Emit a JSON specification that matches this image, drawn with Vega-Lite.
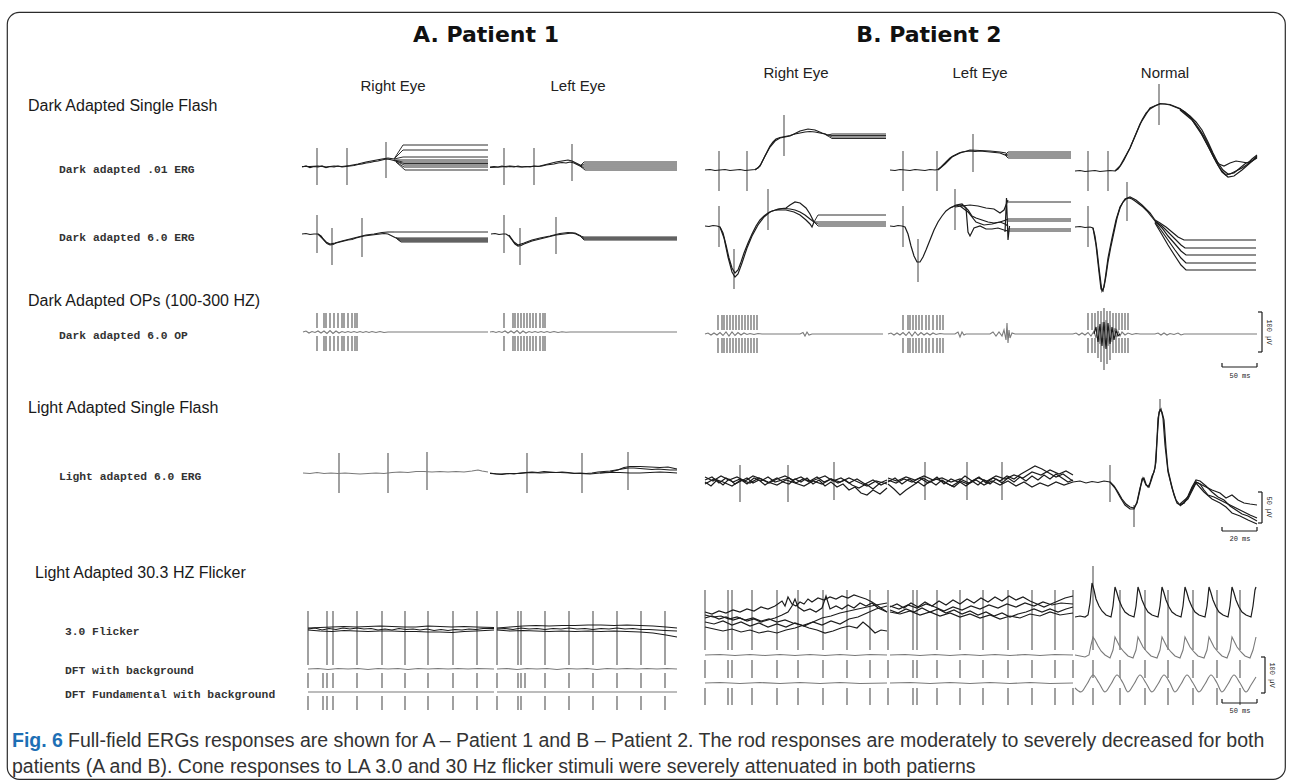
{
"$schema": "https://vega.github.io/schema/vega-lite/v6.json",
"width": 1278, "height": 767,
"autosize": {"type": "none"},
"padding": {"left": 7, "top": 12, "right": 5, "bottom": 3},
"background": "white",
"config": {"view": {"stroke": "#2b2b2b", "strokeWidth": 1.2, "cornerRadius": 12}},
"datasets": {
"raw": [
{"id":"r1","t":302,"v":167},{"id":"r1","t":306,"v":166},{"id":"r1","t":310,"v":167.5},{"id":"r1","t":314,"v":166.5},{"id":"r1","t":318,"v":167},{"id":"r1","t":322,"v":166},{"id":"r1","t":326,"v":167.5},{"id":"r1","t":330,"v":166.5},{"id":"r1","t":334,"v":167},{"id":"r1","t":338,"v":166},{"id":"r1","t":342,"v":167},{"id":"r1","t":346,"v":166.5},{"id":"r1","t":350,"v":166},{"id":"r1","t":354,"v":165.5},{"id":"r1","t":358,"v":164.5},{"id":"r1","t":362,"v":164},{"id":"r1","t":366,"v":163},{"id":"r1","t":370,"v":162.5},{"id":"r1","t":374,"v":161.5},{"id":"r1","t":378,"v":161},{"id":"r1","t":382,"v":160},{"id":"r1","t":386,"v":159},{"id":"r1","t":390,"v":159.5},{"id":"r1","t":394,"v":160.5},{"id":"r1","t":398,"v":162},
{"id":"r2","t":302,"v":166.5},{"id":"r2","t":310,"v":166.5},{"id":"r2","t":318,"v":166},{"id":"r2","t":326,"v":167},{"id":"r2","t":334,"v":166},{"id":"r2","t":342,"v":166.5},{"id":"r2","t":350,"v":165.5},{"id":"r2","t":358,"v":164},{"id":"r2","t":366,"v":162},{"id":"r2","t":374,"v":160.5},{"id":"r2","t":382,"v":159},{"id":"r2","t":388,"v":158},{"id":"r2","t":394,"v":159},
{"id":"r3","t":490,"v":167},{"id":"r3","t":494,"v":166.5},{"id":"r3","t":498,"v":167},{"id":"r3","t":502,"v":166},{"id":"r3","t":506,"v":167},{"id":"r3","t":510,"v":166.5},{"id":"r3","t":514,"v":167},{"id":"r3","t":518,"v":166},{"id":"r3","t":522,"v":167},{"id":"r3","t":526,"v":166.5},{"id":"r3","t":530,"v":167},{"id":"r3","t":534,"v":166},{"id":"r3","t":538,"v":166.5},{"id":"r3","t":542,"v":166},{"id":"r3","t":546,"v":165},{"id":"r3","t":550,"v":164.5},{"id":"r3","t":554,"v":164},{"id":"r3","t":558,"v":163},{"id":"r3","t":562,"v":162.5},{"id":"r3","t":566,"v":163},{"id":"r3","t":570,"v":162},{"id":"r3","t":574,"v":163},{"id":"r3","t":578,"v":165},{"id":"r3","t":582,"v":167},
{"id":"r4","t":490,"v":167.5},{"id":"r4","t":500,"v":167},{"id":"r4","t":510,"v":166},{"id":"r4","t":520,"v":167},{"id":"r4","t":530,"v":166.5},{"id":"r4","t":540,"v":166},{"id":"r4","t":548,"v":164},{"id":"r4","t":556,"v":162},{"id":"r4","t":562,"v":161},{"id":"r4","t":568,"v":160},{"id":"r4","t":572,"v":161},{"id":"r4","t":576,"v":163},{"id":"r4","t":582,"v":166},
{"id":"r5","t":705,"v":170},{"id":"r5","t":710,"v":169.5},{"id":"r5","t":715,"v":170.5},{"id":"r5","t":720,"v":170},{"id":"r5","t":725,"v":169.5},{"id":"r5","t":730,"v":170.5},{"id":"r5","t":735,"v":170},{"id":"r5","t":740,"v":169.5},{"id":"r5","t":745,"v":170.5},{"id":"r5","t":750,"v":170},{"id":"r5","t":755,"v":169.5},{"id":"r5","t":758,"v":168},{"id":"r5","t":761,"v":164},{"id":"r5","t":764,"v":158},{"id":"r5","t":767,"v":152},{"id":"r5","t":770,"v":146},{"id":"r5","t":773,"v":142},{"id":"r5","t":776,"v":139},{"id":"r5","t":780,"v":137.5},{"id":"r5","t":785,"v":136.5},{"id":"r5","t":790,"v":135.5},{"id":"r5","t":795,"v":134},{"id":"r5","t":800,"v":133},{"id":"r5","t":805,"v":132},{"id":"r5","t":810,"v":131.5},{"id":"r5","t":815,"v":132},{"id":"r5","t":820,"v":133},{"id":"r5","t":825,"v":134},{"id":"r5","t":828,"v":136},
{"id":"r6","t":755,"v":170},{"id":"r6","t":760,"v":166},{"id":"r6","t":765,"v":156},{"id":"r6","t":770,"v":147},{"id":"r6","t":775,"v":141},{"id":"r6","t":780,"v":138},{"id":"r6","t":790,"v":136},{"id":"r6","t":800,"v":131},{"id":"r6","t":808,"v":129},{"id":"r6","t":815,"v":130},{"id":"r6","t":822,"v":133},{"id":"r6","t":828,"v":135},
{"id":"r7","t":890,"v":170},{"id":"r7","t":895,"v":170.5},{"id":"r7","t":900,"v":169.5},{"id":"r7","t":905,"v":170},{"id":"r7","t":910,"v":170.5},{"id":"r7","t":915,"v":169.5},{"id":"r7","t":920,"v":170},{"id":"r7","t":925,"v":170.5},{"id":"r7","t":930,"v":169.5},{"id":"r7","t":935,"v":170},{"id":"r7","t":938,"v":169.5},{"id":"r7","t":941,"v":167},{"id":"r7","t":944,"v":164},{"id":"r7","t":947,"v":161},{"id":"r7","t":950,"v":158},{"id":"r7","t":953,"v":156},{"id":"r7","t":956,"v":154.5},{"id":"r7","t":959,"v":153},{"id":"r7","t":962,"v":152},{"id":"r7","t":966,"v":151.5},{"id":"r7","t":970,"v":151},{"id":"r7","t":975,"v":151.5},{"id":"r7","t":980,"v":151},{"id":"r7","t":985,"v":151.5},{"id":"r7","t":990,"v":152},{"id":"r7","t":995,"v":152.5},{"id":"r7","t":1000,"v":153},{"id":"r7","t":1005,"v":155},
{"id":"r8","t":938,"v":170},{"id":"r8","t":945,"v":164},{"id":"r8","t":952,"v":157},{"id":"r8","t":960,"v":153},{"id":"r8","t":970,"v":150},{"id":"r8","t":980,"v":150.5},{"id":"r8","t":990,"v":151},{"id":"r8","t":1000,"v":152},{"id":"r8","t":1006,"v":153},
{"id":"r9","t":1075,"v":171},{"id":"r9","t":1080,"v":170.5},{"id":"r9","t":1085,"v":171.5},{"id":"r9","t":1090,"v":171},{"id":"r9","t":1095,"v":170.5},{"id":"r9","t":1100,"v":171.5},{"id":"r9","t":1105,"v":171},{"id":"r9","t":1110,"v":170.5},{"id":"r9","t":1115,"v":171},{"id":"r9","t":1118,"v":169},{"id":"r9","t":1121,"v":165},{"id":"r9","t":1124,"v":160},{"id":"r9","t":1127,"v":154},{"id":"r9","t":1130,"v":148},{"id":"r9","t":1133,"v":141},{"id":"r9","t":1136,"v":134},{"id":"r9","t":1139,"v":127},{"id":"r9","t":1142,"v":120},{"id":"r9","t":1146,"v":113},{"id":"r9","t":1150,"v":109},{"id":"r9","t":1155,"v":106},{"id":"r9","t":1160,"v":104},{"id":"r9","t":1165,"v":104},{"id":"r9","t":1170,"v":105},{"id":"r9","t":1175,"v":107},{"id":"r9","t":1180,"v":109},{"id":"r9","t":1185,"v":112},{"id":"r9","t":1190,"v":117},{"id":"r9","t":1195,"v":123},{"id":"r9","t":1200,"v":130},{"id":"r9","t":1205,"v":138},{"id":"r9","t":1210,"v":148},{"id":"r9","t":1214,"v":157},{"id":"r9","t":1218,"v":165},{"id":"r9","t":1222,"v":171},{"id":"r9","t":1226,"v":175},{"id":"r9","t":1230,"v":174},{"id":"r9","t":1236,"v":171},{"id":"r9","t":1242,"v":168},{"id":"r9","t":1248,"v":164},{"id":"r9","t":1253,"v":160},{"id":"r9","t":1257,"v":156},
{"id":"r10","t":1115,"v":171},{"id":"r10","t":1120,"v":166},{"id":"r10","t":1130,"v":148},{"id":"r10","t":1140,"v":124},{"id":"r10","t":1150,"v":108},{"id":"r10","t":1160,"v":103.5},{"id":"r10","t":1170,"v":104.5},{"id":"r10","t":1180,"v":108.5},{"id":"r10","t":1190,"v":116},{"id":"r10","t":1196,"v":122},{"id":"r10","t":1202,"v":130},{"id":"r10","t":1208,"v":142},{"id":"r10","t":1213,"v":153},{"id":"r10","t":1218,"v":163},{"id":"r10","t":1223,"v":170},{"id":"r10","t":1228,"v":174},{"id":"r10","t":1234,"v":173},{"id":"r10","t":1240,"v":168},{"id":"r10","t":1246,"v":163},{"id":"r10","t":1252,"v":161},{"id":"r10","t":1257,"v":158},
{"id":"r11","t":1180,"v":109},{"id":"r11","t":1190,"v":117},{"id":"r11","t":1200,"v":131},{"id":"r11","t":1208,"v":146},{"id":"r11","t":1214,"v":158},{"id":"r11","t":1219,"v":164},{"id":"r11","t":1224,"v":166},{"id":"r11","t":1230,"v":163},{"id":"r11","t":1236,"v":161},{"id":"r11","t":1242,"v":162},{"id":"r11","t":1248,"v":163},{"id":"r11","t":1252,"v":159},{"id":"r11","t":1257,"v":155},
{"id":"r12","t":1180,"v":110},{"id":"r12","t":1192,"v":120},{"id":"r12","t":1202,"v":135},{"id":"r12","t":1210,"v":150},{"id":"r12","t":1216,"v":162},{"id":"r12","t":1222,"v":172},{"id":"r12","t":1228,"v":177},{"id":"r12","t":1234,"v":176},{"id":"r12","t":1242,"v":170},{"id":"r12","t":1250,"v":163},{"id":"r12","t":1257,"v":157},
{"id":"r13","t":302,"v":234},{"id":"r13","t":306,"v":233.5},{"id":"r13","t":310,"v":234.5},{"id":"r13","t":314,"v":234},{"id":"r13","t":318,"v":234},{"id":"r13","t":321,"v":236},{"id":"r13","t":324,"v":240},{"id":"r13","t":327,"v":243.5},{"id":"r13","t":330,"v":245},{"id":"r13","t":333,"v":244.5},{"id":"r13","t":336,"v":243},{"id":"r13","t":340,"v":242},{"id":"r13","t":344,"v":241},{"id":"r13","t":348,"v":240},{"id":"r13","t":352,"v":239.5},{"id":"r13","t":356,"v":238},{"id":"r13","t":360,"v":237},{"id":"r13","t":364,"v":236},{"id":"r13","t":368,"v":235.5},{"id":"r13","t":372,"v":235},{"id":"r13","t":376,"v":234.5},{"id":"r13","t":380,"v":234},{"id":"r13","t":384,"v":233.5},{"id":"r13","t":388,"v":234},{"id":"r13","t":392,"v":236},{"id":"r13","t":396,"v":238},
{"id":"r14","t":318,"v":234},{"id":"r14","t":322,"v":238},{"id":"r14","t":326,"v":242},{"id":"r14","t":330,"v":244},{"id":"r14","t":335,"v":243},{"id":"r14","t":342,"v":241},{"id":"r14","t":350,"v":239},{"id":"r14","t":358,"v":237},{"id":"r14","t":366,"v":235},{"id":"r14","t":374,"v":234},{"id":"r14","t":382,"v":232.5},{"id":"r14","t":388,"v":232},{"id":"r14","t":394,"v":232},
{"id":"r15","t":491,"v":234},{"id":"r15","t":495,"v":233.5},{"id":"r15","t":499,"v":234.5},{"id":"r15","t":503,"v":234},{"id":"r15","t":506,"v":234},{"id":"r15","t":509,"v":236},{"id":"r15","t":512,"v":240},{"id":"r15","t":515,"v":244},{"id":"r15","t":518,"v":246},{"id":"r15","t":521,"v":245.5},{"id":"r15","t":524,"v":244},{"id":"r15","t":528,"v":242.5},{"id":"r15","t":532,"v":241},{"id":"r15","t":536,"v":240},{"id":"r15","t":540,"v":239},{"id":"r15","t":544,"v":238},{"id":"r15","t":548,"v":237},{"id":"r15","t":552,"v":236},{"id":"r15","t":556,"v":235},{"id":"r15","t":560,"v":234.5},{"id":"r15","t":564,"v":234},{"id":"r15","t":568,"v":233.5},{"id":"r15","t":572,"v":233},{"id":"r15","t":576,"v":234},{"id":"r15","t":580,"v":236},
{"id":"r16","t":509,"v":235},{"id":"r16","t":514,"v":242},{"id":"r16","t":518,"v":245},{"id":"r16","t":524,"v":243},{"id":"r16","t":532,"v":240},{"id":"r16","t":540,"v":238},{"id":"r16","t":550,"v":236},{"id":"r16","t":560,"v":233.5},{"id":"r16","t":568,"v":232.5},{"id":"r16","t":575,"v":233},{"id":"r16","t":581,"v":236},
{"id":"r17","t":705,"v":226},{"id":"r17","t":709,"v":226.5},{"id":"r17","t":713,"v":225.5},{"id":"r17","t":717,"v":226},{"id":"r17","t":720,"v":227},{"id":"r17","t":723,"v":233},{"id":"r17","t":726,"v":245},{"id":"r17","t":729,"v":258},{"id":"r17","t":732,"v":268},{"id":"r17","t":735,"v":273},{"id":"r17","t":738,"v":270},{"id":"r17","t":741,"v":262},{"id":"r17","t":744,"v":253},{"id":"r17","t":748,"v":243},{"id":"r17","t":752,"v":234},{"id":"r17","t":756,"v":226},{"id":"r17","t":760,"v":220},{"id":"r17","t":764,"v":216},{"id":"r17","t":768,"v":213},{"id":"r17","t":772,"v":211},{"id":"r17","t":776,"v":210},{"id":"r17","t":780,"v":209},{"id":"r17","t":785,"v":208.5},{"id":"r17","t":790,"v":209},{"id":"r17","t":795,"v":210},{"id":"r17","t":800,"v":212},{"id":"r17","t":805,"v":215},{"id":"r17","t":810,"v":219},{"id":"r17","t":814,"v":222},
{"id":"r18","t":720,"v":227},{"id":"r18","t":724,"v":238},{"id":"r18","t":728,"v":257},{"id":"r18","t":732,"v":272},{"id":"r18","t":735,"v":277},{"id":"r18","t":738,"v":274},{"id":"r18","t":742,"v":263},{"id":"r18","t":747,"v":248},{"id":"r18","t":752,"v":236},{"id":"r18","t":758,"v":225},{"id":"r18","t":764,"v":217},{"id":"r18","t":770,"v":212},{"id":"r18","t":778,"v":209},{"id":"r18","t":786,"v":208},{"id":"r18","t":790,"v":205},{"id":"r18","t":795,"v":202},{"id":"r18","t":800,"v":203},{"id":"r18","t":806,"v":208},{"id":"r18","t":810,"v":214},{"id":"r18","t":814,"v":222},
{"id":"r19","t":776,"v":210},{"id":"r19","t":786,"v":210},{"id":"r19","t":794,"v":212},{"id":"r19","t":800,"v":215},{"id":"r19","t":806,"v":220},{"id":"r19","t":810,"v":224},{"id":"r19","t":812,"v":227},{"id":"r19","t":814,"v":222},
{"id":"r20","t":890,"v":226},{"id":"r20","t":894,"v":226.5},{"id":"r20","t":898,"v":225.5},{"id":"r20","t":902,"v":226},{"id":"r20","t":905,"v":227},{"id":"r20","t":908,"v":234},{"id":"r20","t":911,"v":246},{"id":"r20","t":914,"v":256},{"id":"r20","t":917,"v":262},{"id":"r20","t":920,"v":262},{"id":"r20","t":923,"v":257},{"id":"r20","t":926,"v":250},{"id":"r20","t":930,"v":240},{"id":"r20","t":934,"v":230},{"id":"r20","t":938,"v":222},{"id":"r20","t":942,"v":216},{"id":"r20","t":946,"v":211},{"id":"r20","t":950,"v":208},{"id":"r20","t":955,"v":206},{"id":"r20","t":960,"v":205},{"id":"r20","t":964,"v":206},{"id":"r20","t":968,"v":210},{"id":"r20","t":972,"v":216},{"id":"r20","t":976,"v":218},{"id":"r20","t":982,"v":220},{"id":"r20","t":988,"v":222},{"id":"r20","t":994,"v":223},{"id":"r20","t":1000,"v":222},{"id":"r20","t":1005,"v":224},{"id":"r20","t":1008,"v":226},
{"id":"r21","t":950,"v":208},{"id":"r21","t":956,"v":205},{"id":"r21","t":962,"v":204},{"id":"r21","t":966,"v":208},{"id":"r21","t":968,"v":232},{"id":"r21","t":970,"v":236},{"id":"r21","t":974,"v":228},{"id":"r21","t":980,"v":226},{"id":"r21","t":986,"v":229},{"id":"r21","t":992,"v":229},{"id":"r21","t":998,"v":228},{"id":"r21","t":1004,"v":230},{"id":"r21","t":1008,"v":231},
{"id":"r22","t":955,"v":207},{"id":"r22","t":962,"v":206},{"id":"r22","t":970,"v":205},{"id":"r22","t":978,"v":206},{"id":"r22","t":986,"v":208},{"id":"r22","t":994,"v":209},{"id":"r22","t":1000,"v":213},{"id":"r22","t":1004,"v":210},{"id":"r22","t":1008,"v":200},
{"id":"r23","t":960,"v":206},{"id":"r23","t":968,"v":212},{"id":"r23","t":976,"v":222},{"id":"r23","t":984,"v":225},{"id":"r23","t":992,"v":224},{"id":"r23","t":1000,"v":222},{"id":"r23","t":1006,"v":220},{"id":"r23","t":1008,"v":219},
{"id":"r24","t":1005,"v":232},{"id":"r24","t":1006.5,"v":198},{"id":"r24","t":1008,"v":240},{"id":"r24","t":1009.5,"v":226},
{"id":"r25","t":1075,"v":227},{"id":"r25","t":1080,"v":226.5},{"id":"r25","t":1085,"v":227.5},{"id":"r25","t":1090,"v":227},{"id":"r25","t":1093,"v":228},{"id":"r25","t":1095,"v":236},{"id":"r25","t":1097,"v":250},{"id":"r25","t":1099,"v":268},{"id":"r25","t":1101,"v":284},{"id":"r25","t":1102,"v":291},{"id":"r25","t":1104,"v":287},{"id":"r25","t":1106,"v":276},{"id":"r25","t":1108,"v":262},{"id":"r25","t":1111,"v":246},{"id":"r25","t":1114,"v":232},{"id":"r25","t":1117,"v":218},{"id":"r25","t":1120,"v":208},{"id":"r25","t":1123,"v":202},{"id":"r25","t":1126,"v":199},{"id":"r25","t":1129,"v":198},{"id":"r25","t":1132,"v":199},{"id":"r25","t":1135,"v":201},{"id":"r25","t":1139,"v":204},{"id":"r25","t":1143,"v":207},{"id":"r25","t":1147,"v":211},{"id":"r25","t":1151,"v":216},{"id":"r25","t":1155,"v":221},
{"id":"r26","t":1093,"v":228},{"id":"r26","t":1096,"v":245},{"id":"r26","t":1099,"v":272},{"id":"r26","t":1101,"v":289},{"id":"r26","t":1103,"v":291},{"id":"r26","t":1105,"v":280},{"id":"r26","t":1108,"v":258},{"id":"r26","t":1112,"v":238},{"id":"r26","t":1116,"v":220},{"id":"r26","t":1120,"v":207},{"id":"r26","t":1125,"v":199},{"id":"r26","t":1130,"v":197},{"id":"r26","t":1136,"v":200},{"id":"r26","t":1142,"v":205},{"id":"r26","t":1150,"v":213},{"id":"r26","t":1155,"v":220},
{"id":"r27","t":1155,"v":220},{"id":"r27","t":1160,"v":223},{"id":"r27","t":1166,"v":227},{"id":"r27","t":1172,"v":232},{"id":"r27","t":1178,"v":237},{"id":"r27","t":1184,"v":240},{"id":"r27","t":1256,"v":240},
{"id":"r28","t":1155,"v":221},{"id":"r28","t":1162,"v":226},{"id":"r28","t":1168,"v":232},{"id":"r28","t":1175,"v":239},{"id":"r28","t":1181,"v":245},{"id":"r28","t":1185,"v":248},{"id":"r28","t":1256,"v":248},
{"id":"r29","t":1155,"v":221},{"id":"r29","t":1162,"v":228},{"id":"r29","t":1168,"v":236},{"id":"r29","t":1175,"v":244},{"id":"r29","t":1181,"v":251},{"id":"r29","t":1186,"v":255},{"id":"r29","t":1256,"v":255},
{"id":"r30","t":1155,"v":222},{"id":"r30","t":1161,"v":230},{"id":"r30","t":1168,"v":240},{"id":"r30","t":1175,"v":250},{"id":"r30","t":1181,"v":258},{"id":"r30","t":1186,"v":263},{"id":"r30","t":1256,"v":263},
{"id":"r31","t":1155,"v":223},{"id":"r31","t":1161,"v":233},{"id":"r31","t":1168,"v":245},{"id":"r31","t":1175,"v":256},{"id":"r31","t":1181,"v":265},{"id":"r31","t":1186,"v":270},{"id":"r31","t":1256,"v":270},
{"id":"r32","t":490,"v":473},{"id":"r32","t":496,"v":474},{"id":"r32","t":502,"v":474.5},{"id":"r32","t":508,"v":473.5},{"id":"r32","t":514,"v":474},{"id":"r32","t":520,"v":473},{"id":"r32","t":526,"v":472.5},{"id":"r32","t":532,"v":472},{"id":"r32","t":538,"v":472.5},{"id":"r32","t":544,"v":471.5},{"id":"r32","t":550,"v":472},{"id":"r32","t":556,"v":472.5},{"id":"r32","t":562,"v":472},{"id":"r32","t":568,"v":472.5},{"id":"r32","t":574,"v":473.5},{"id":"r32","t":580,"v":473},{"id":"r32","t":586,"v":473.5},{"id":"r32","t":592,"v":473},{"id":"r32","t":598,"v":472},{"id":"r32","t":604,"v":471.5},{"id":"r32","t":610,"v":471},{"id":"r32","t":616,"v":470},{"id":"r32","t":622,"v":469},{"id":"r32","t":628,"v":468},{"id":"r32","t":634,"v":468},{"id":"r32","t":640,"v":468.5},{"id":"r32","t":646,"v":469},{"id":"r32","t":652,"v":469.5},{"id":"r32","t":658,"v":469},{"id":"r32","t":664,"v":469.5},{"id":"r32","t":670,"v":470},{"id":"r32","t":677,"v":470},
{"id":"r33","t":490,"v":473.5},{"id":"r33","t":500,"v":474},{"id":"r33","t":510,"v":473.5},{"id":"r33","t":520,"v":473.5},{"id":"r33","t":530,"v":472.5},{"id":"r33","t":540,"v":473},{"id":"r33","t":550,"v":472.5},{"id":"r33","t":560,"v":472.5},{"id":"r33","t":570,"v":473},{"id":"r33","t":580,"v":473.5},{"id":"r33","t":590,"v":474},{"id":"r33","t":600,"v":473},{"id":"r33","t":610,"v":472.5},{"id":"r33","t":620,"v":472.5},{"id":"r33","t":630,"v":473},{"id":"r33","t":640,"v":473},{"id":"r33","t":650,"v":472.5},{"id":"r33","t":660,"v":472},{"id":"r33","t":670,"v":472.5},{"id":"r33","t":677,"v":473},
{"id":"r34","t":600,"v":473},{"id":"r34","t":610,"v":472},{"id":"r34","t":618,"v":470},{"id":"r34","t":624,"v":467.5},{"id":"r34","t":630,"v":466.5},{"id":"r34","t":640,"v":466.5},{"id":"r34","t":650,"v":467},{"id":"r34","t":660,"v":467.5},{"id":"r34","t":668,"v":467},{"id":"r34","t":677,"v":469},
{"id":"r35","t":705,"v":480},{"id":"r35","t":712,"v":477},{"id":"r35","t":719,"v":483},{"id":"r35","t":726,"v":478},{"id":"r35","t":733,"v":482},{"id":"r35","t":740,"v":479},{"id":"r35","t":747,"v":484},{"id":"r35","t":754,"v":478},{"id":"r35","t":761,"v":481},{"id":"r35","t":768,"v":477},{"id":"r35","t":775,"v":482},{"id":"r35","t":782,"v":480},{"id":"r35","t":789,"v":478},{"id":"r35","t":796,"v":483},{"id":"r35","t":803,"v":479},{"id":"r35","t":810,"v":481},{"id":"r35","t":817,"v":477},{"id":"r35","t":824,"v":482},{"id":"r35","t":831,"v":479},{"id":"r35","t":838,"v":483},{"id":"r35","t":845,"v":480},{"id":"r35","t":852,"v":485},{"id":"r35","t":859,"v":488},{"id":"r35","t":866,"v":484},{"id":"r35","t":873,"v":489},{"id":"r35","t":880,"v":483},{"id":"r35","t":887,"v":480},
{"id":"r36","t":705,"v":482},{"id":"r36","t":711,"v":486},{"id":"r36","t":717,"v":480},{"id":"r36","t":723,"v":485},{"id":"r36","t":729,"v":479},{"id":"r36","t":735,"v":484},{"id":"r36","t":741,"v":481},{"id":"r36","t":747,"v":478},{"id":"r36","t":753,"v":483},{"id":"r36","t":759,"v":480},{"id":"r36","t":765,"v":485},{"id":"r36","t":771,"v":481},{"id":"r36","t":777,"v":478},{"id":"r36","t":783,"v":482},{"id":"r36","t":789,"v":484},{"id":"r36","t":795,"v":479},{"id":"r36","t":801,"v":482},{"id":"r36","t":807,"v":478},{"id":"r36","t":813,"v":484},{"id":"r36","t":819,"v":480},{"id":"r36","t":825,"v":486},{"id":"r36","t":831,"v":482},{"id":"r36","t":837,"v":487},{"id":"r36","t":843,"v":484},{"id":"r36","t":849,"v":490},{"id":"r36","t":855,"v":487},{"id":"r36","t":861,"v":493},{"id":"r36","t":867,"v":495},{"id":"r36","t":873,"v":490},{"id":"r36","t":880,"v":494},{"id":"r36","t":887,"v":488},
{"id":"r37","t":705,"v":477},{"id":"r37","t":713,"v":481},{"id":"r37","t":721,"v":476},{"id":"r37","t":729,"v":480},{"id":"r37","t":737,"v":477},{"id":"r37","t":745,"v":481},{"id":"r37","t":753,"v":476},{"id":"r37","t":761,"v":479},{"id":"r37","t":769,"v":483},{"id":"r37","t":777,"v":479},{"id":"r37","t":785,"v":476},{"id":"r37","t":793,"v":480},{"id":"r37","t":801,"v":477},{"id":"r37","t":809,"v":482},{"id":"r37","t":817,"v":479},{"id":"r37","t":825,"v":476},{"id":"r37","t":833,"v":481},{"id":"r37","t":841,"v":478},{"id":"r37","t":849,"v":483},{"id":"r37","t":857,"v":479},{"id":"r37","t":865,"v":484},{"id":"r37","t":873,"v":480},{"id":"r37","t":881,"v":485},{"id":"r37","t":887,"v":482},
{"id":"r38","t":705,"v":484},{"id":"r38","t":714,"v":479},{"id":"r38","t":723,"v":482},{"id":"r38","t":732,"v":486},{"id":"r38","t":741,"v":480},{"id":"r38","t":750,"v":483},{"id":"r38","t":759,"v":478},{"id":"r38","t":768,"v":482},{"id":"r38","t":777,"v":485},{"id":"r38","t":786,"v":480},{"id":"r38","t":795,"v":483},{"id":"r38","t":804,"v":486},{"id":"r38","t":813,"v":481},{"id":"r38","t":822,"v":484},{"id":"r38","t":831,"v":479},{"id":"r38","t":840,"v":482},{"id":"r38","t":849,"v":478},{"id":"r38","t":858,"v":482},{"id":"r38","t":867,"v":486},{"id":"r38","t":876,"v":481},{"id":"r38","t":887,"v":484},
{"id":"r39","t":888,"v":482},{"id":"r39","t":895,"v":478},{"id":"r39","t":902,"v":484},{"id":"r39","t":909,"v":479},{"id":"r39","t":916,"v":483},{"id":"r39","t":923,"v":478},{"id":"r39","t":930,"v":482},{"id":"r39","t":937,"v":477},{"id":"r39","t":944,"v":484},{"id":"r39","t":951,"v":479},{"id":"r39","t":958,"v":482},{"id":"r39","t":965,"v":476},{"id":"r39","t":972,"v":481},{"id":"r39","t":979,"v":477},{"id":"r39","t":986,"v":483},{"id":"r39","t":993,"v":478},{"id":"r39","t":1000,"v":481},{"id":"r39","t":1007,"v":476},{"id":"r39","t":1014,"v":479},{"id":"r39","t":1021,"v":474},{"id":"r39","t":1028,"v":470},{"id":"r39","t":1035,"v":466},{"id":"r39","t":1042,"v":469},{"id":"r39","t":1049,"v":473},{"id":"r39","t":1056,"v":477},{"id":"r39","t":1063,"v":474},{"id":"r39","t":1070,"v":479},{"id":"r39","t":1073,"v":481},
{"id":"r40","t":888,"v":484},{"id":"r40","t":894,"v":489},{"id":"r40","t":900,"v":495},{"id":"r40","t":906,"v":490},{"id":"r40","t":912,"v":486},{"id":"r40","t":918,"v":482},{"id":"r40","t":924,"v":486},{"id":"r40","t":930,"v":481},{"id":"r40","t":936,"v":485},{"id":"r40","t":942,"v":480},{"id":"r40","t":948,"v":484},{"id":"r40","t":954,"v":487},{"id":"r40","t":960,"v":482},{"id":"r40","t":966,"v":486},{"id":"r40","t":972,"v":481},{"id":"r40","t":978,"v":485},{"id":"r40","t":984,"v":480},{"id":"r40","t":990,"v":484},{"id":"r40","t":996,"v":479},{"id":"r40","t":1002,"v":483},{"id":"r40","t":1008,"v":478},{"id":"r40","t":1014,"v":482},{"id":"r40","t":1020,"v":477},{"id":"r40","t":1026,"v":481},{"id":"r40","t":1032,"v":476},{"id":"r40","t":1038,"v":480},{"id":"r40","t":1044,"v":475},{"id":"r40","t":1050,"v":479},{"id":"r40","t":1056,"v":474},{"id":"r40","t":1062,"v":478},{"id":"r40","t":1068,"v":482},{"id":"r40","t":1073,"v":480},
{"id":"r41","t":888,"v":480},{"id":"r41","t":896,"v":483},{"id":"r41","t":904,"v":479},{"id":"r41","t":912,"v":482},{"id":"r41","t":920,"v":478},{"id":"r41","t":928,"v":483},{"id":"r41","t":936,"v":479},{"id":"r41","t":944,"v":482},{"id":"r41","t":952,"v":486},{"id":"r41","t":960,"v":481},{"id":"r41","t":968,"v":484},{"id":"r41","t":976,"v":480},{"id":"r41","t":984,"v":485},{"id":"r41","t":992,"v":481},{"id":"r41","t":1000,"v":485},{"id":"r41","t":1008,"v":481},{"id":"r41","t":1016,"v":486},{"id":"r41","t":1024,"v":482},{"id":"r41","t":1032,"v":487},{"id":"r41","t":1040,"v":483},{"id":"r41","t":1048,"v":486},{"id":"r41","t":1056,"v":482},{"id":"r41","t":1064,"v":485},{"id":"r41","t":1073,"v":482},
{"id":"r42","t":888,"v":478},{"id":"r42","t":897,"v":481},{"id":"r42","t":906,"v":477},{"id":"r42","t":915,"v":480},{"id":"r42","t":924,"v":476},{"id":"r42","t":933,"v":480},{"id":"r42","t":942,"v":478},{"id":"r42","t":951,"v":482},{"id":"r42","t":960,"v":479},{"id":"r42","t":969,"v":483},{"id":"r42","t":978,"v":478},{"id":"r42","t":987,"v":481},{"id":"r42","t":996,"v":476},{"id":"r42","t":1005,"v":479},{"id":"r42","t":1014,"v":475},{"id":"r42","t":1023,"v":478},{"id":"r42","t":1032,"v":472},{"id":"r42","t":1041,"v":475},{"id":"r42","t":1050,"v":470},{"id":"r42","t":1059,"v":474},{"id":"r42","t":1066,"v":471},{"id":"r42","t":1073,"v":475},
{"id":"r43","t":1073,"v":482},{"id":"r43","t":1080,"v":481},{"id":"r43","t":1086,"v":483},{"id":"r43","t":1092,"v":481.5},{"id":"r43","t":1098,"v":482.5},{"id":"r43","t":1104,"v":481},{"id":"r43","t":1110,"v":482},{"id":"r43","t":1114,"v":486},{"id":"r43","t":1118,"v":492},{"id":"r43","t":1122,"v":499},{"id":"r43","t":1126,"v":504},{"id":"r43","t":1130,"v":507},{"id":"r43","t":1134,"v":508},{"id":"r43","t":1137,"v":503},{"id":"r43","t":1140,"v":490},{"id":"r43","t":1142,"v":479},{"id":"r43","t":1144,"v":478},{"id":"r43","t":1146,"v":484},{"id":"r43","t":1148,"v":487},{"id":"r43","t":1150,"v":483},{"id":"r43","t":1152,"v":476},{"id":"r43","t":1154,"v":472},{"id":"r43","t":1156,"v":462},{"id":"r43","t":1157,"v":440},{"id":"r43","t":1158,"v":418},{"id":"r43","t":1160,"v":410},{"id":"r43","t":1162,"v":412},{"id":"r43","t":1164,"v":420},{"id":"r43","t":1166,"v":448},{"id":"r43","t":1168,"v":470},{"id":"r43","t":1171,"v":483},{"id":"r43","t":1174,"v":495},{"id":"r43","t":1177,"v":503},{"id":"r43","t":1180,"v":505},{"id":"r43","t":1184,"v":503},{"id":"r43","t":1188,"v":497},{"id":"r43","t":1192,"v":488},{"id":"r43","t":1196,"v":482},{"id":"r43","t":1200,"v":484},{"id":"r43","t":1204,"v":490},{"id":"r43","t":1208,"v":495},{"id":"r43","t":1214,"v":497},{"id":"r43","t":1220,"v":500},{"id":"r43","t":1226,"v":503},{"id":"r43","t":1232,"v":506},{"id":"r43","t":1238,"v":509},{"id":"r43","t":1244,"v":512},{"id":"r43","t":1250,"v":515},{"id":"r43","t":1257,"v":518},
{"id":"r44","t":1180,"v":505},{"id":"r44","t":1184,"v":503},{"id":"r44","t":1188,"v":496},{"id":"r44","t":1192,"v":487},{"id":"r44","t":1196,"v":480},{"id":"r44","t":1200,"v":481},{"id":"r44","t":1206,"v":486},{"id":"r44","t":1212,"v":492},{"id":"r44","t":1218,"v":497},{"id":"r44","t":1224,"v":500},{"id":"r44","t":1230,"v":506},{"id":"r44","t":1236,"v":510},{"id":"r44","t":1242,"v":514},{"id":"r44","t":1248,"v":516},{"id":"r44","t":1257,"v":521},
{"id":"r45","t":1180,"v":504},{"id":"r45","t":1188,"v":497},{"id":"r45","t":1196,"v":482},{"id":"r45","t":1204,"v":486},{"id":"r45","t":1212,"v":490},{"id":"r45","t":1220,"v":493},{"id":"r45","t":1226,"v":498},{"id":"r45","t":1232,"v":495},{"id":"r45","t":1238,"v":500},{"id":"r45","t":1244,"v":503},{"id":"r45","t":1250,"v":504},{"id":"r45","t":1257,"v":505},
{"id":"r46","t":1180,"v":506},{"id":"r46","t":1188,"v":499},{"id":"r46","t":1196,"v":483},{"id":"r46","t":1204,"v":492},{"id":"r46","t":1212,"v":499},{"id":"r46","t":1220,"v":503},{"id":"r46","t":1226,"v":507},{"id":"r46","t":1232,"v":513},{"id":"r46","t":1240,"v":516},{"id":"r46","t":1248,"v":520},{"id":"r46","t":1257,"v":524},
{"id":"r47","t":1110,"v":482},{"id":"r47","t":1115,"v":488},{"id":"r47","t":1120,"v":497},{"id":"r47","t":1125,"v":505},{"id":"r47","t":1130,"v":509},{"id":"r47","t":1134,"v":509},{"id":"r47","t":1137,"v":502},{"id":"r47","t":1140,"v":488},{"id":"r47","t":1143,"v":478},{"id":"r47","t":1146,"v":485},{"id":"r47","t":1149,"v":487},{"id":"r47","t":1152,"v":478},{"id":"r47","t":1155,"v":468},{"id":"r47","t":1157,"v":440},{"id":"r47","t":1159,"v":412},{"id":"r47","t":1161,"v":409},{"id":"r47","t":1163,"v":418},{"id":"r47","t":1165,"v":445},{"id":"r47","t":1168,"v":472},{"id":"r47","t":1172,"v":488},{"id":"r47","t":1176,"v":500},{"id":"r47","t":1180,"v":505},
{"id":"r48","t":308,"v":629},{"id":"r48","t":315,"v":628},{"id":"r48","t":322,"v":630},{"id":"r48","t":329,"v":628.5},{"id":"r48","t":336,"v":629.5},{"id":"r48","t":343,"v":628},{"id":"r48","t":350,"v":629},{"id":"r48","t":357,"v":628},{"id":"r48","t":364,"v":629},{"id":"r48","t":371,"v":628.5},{"id":"r48","t":378,"v":630},{"id":"r48","t":385,"v":629},{"id":"r48","t":392,"v":630},{"id":"r48","t":399,"v":628.5},{"id":"r48","t":406,"v":629.5},{"id":"r48","t":413,"v":629},{"id":"r48","t":420,"v":630},{"id":"r48","t":427,"v":629},{"id":"r48","t":434,"v":630.5},{"id":"r48","t":441,"v":629.5},{"id":"r48","t":448,"v":630.5},{"id":"r48","t":455,"v":629.5},{"id":"r48","t":462,"v":630},{"id":"r48","t":469,"v":629},{"id":"r48","t":476,"v":629.5},{"id":"r48","t":483,"v":628.5},{"id":"r48","t":494,"v":628.5},
{"id":"r49","t":308,"v":628},{"id":"r49","t":320,"v":627.5},{"id":"r49","t":332,"v":627},{"id":"r49","t":344,"v":626.5},{"id":"r49","t":356,"v":627},{"id":"r49","t":368,"v":626.5},{"id":"r49","t":380,"v":626},{"id":"r49","t":392,"v":626.5},{"id":"r49","t":404,"v":627},{"id":"r49","t":416,"v":627},{"id":"r49","t":428,"v":626},{"id":"r49","t":440,"v":626.5},{"id":"r49","t":452,"v":627},{"id":"r49","t":464,"v":626.5},{"id":"r49","t":476,"v":627},{"id":"r49","t":494,"v":627.5},
{"id":"r50","t":308,"v":630},{"id":"r50","t":320,"v":631},{"id":"r50","t":332,"v":631.5},{"id":"r50","t":344,"v":630.5},{"id":"r50","t":356,"v":631},{"id":"r50","t":368,"v":631.5},{"id":"r50","t":380,"v":631},{"id":"r50","t":392,"v":631},{"id":"r50","t":404,"v":631.5},{"id":"r50","t":416,"v":631.5},{"id":"r50","t":428,"v":632},{"id":"r50","t":440,"v":632},{"id":"r50","t":452,"v":632.5},{"id":"r50","t":464,"v":631.5},{"id":"r50","t":476,"v":631},{"id":"r50","t":494,"v":630},
{"id":"r51","t":497,"v":629},{"id":"r51","t":505,"v":628.5},{"id":"r51","t":513,"v":629.5},{"id":"r51","t":521,"v":628},{"id":"r51","t":529,"v":629},{"id":"r51","t":537,"v":628.5},{"id":"r51","t":545,"v":629.5},{"id":"r51","t":553,"v":628.5},{"id":"r51","t":561,"v":629},{"id":"r51","t":569,"v":628},{"id":"r51","t":577,"v":629},{"id":"r51","t":585,"v":628.5},{"id":"r51","t":593,"v":629.5},{"id":"r51","t":601,"v":628.5},{"id":"r51","t":609,"v":629},{"id":"r51","t":617,"v":628},{"id":"r51","t":625,"v":629},{"id":"r51","t":633,"v":628.5},{"id":"r51","t":641,"v":629.5},{"id":"r51","t":649,"v":629.5},{"id":"r51","t":657,"v":630},{"id":"r51","t":665,"v":630.5},{"id":"r51","t":677,"v":631},
{"id":"r52","t":497,"v":628},{"id":"r52","t":510,"v":627},{"id":"r52","t":523,"v":626},{"id":"r52","t":536,"v":625.5},{"id":"r52","t":549,"v":626},{"id":"r52","t":562,"v":625.5},{"id":"r52","t":575,"v":625.5},{"id":"r52","t":588,"v":625},{"id":"r52","t":601,"v":625},{"id":"r52","t":614,"v":625.5},{"id":"r52","t":627,"v":625},{"id":"r52","t":640,"v":625.5},{"id":"r52","t":653,"v":626},{"id":"r52","t":666,"v":627},{"id":"r52","t":677,"v":628},
{"id":"r53","t":497,"v":630},{"id":"r53","t":510,"v":631},{"id":"r53","t":523,"v":630.5},{"id":"r53","t":536,"v":631},{"id":"r53","t":549,"v":631.5},{"id":"r53","t":562,"v":631},{"id":"r53","t":575,"v":631.5},{"id":"r53","t":588,"v":631},{"id":"r53","t":601,"v":631.5},{"id":"r53","t":614,"v":631},{"id":"r53","t":627,"v":631.5},{"id":"r53","t":640,"v":632},{"id":"r53","t":653,"v":633},{"id":"r53","t":666,"v":635},{"id":"r53","t":677,"v":637},
{"id":"r54","t":705,"v":612},{"id":"r54","t":712,"v":614},{"id":"r54","t":719,"v":611},{"id":"r54","t":726,"v":613},{"id":"r54","t":733,"v":610},{"id":"r54","t":740,"v":612},{"id":"r54","t":747,"v":609},{"id":"r54","t":754,"v":611},{"id":"r54","t":761,"v":607},{"id":"r54","t":768,"v":609},{"id":"r54","t":775,"v":606},{"id":"r54","t":782,"v":601},{"id":"r54","t":785,"v":606},{"id":"r54","t":788,"v":597},{"id":"r54","t":792,"v":604},{"id":"r54","t":796,"v":606},{"id":"r54","t":800,"v":602},{"id":"r54","t":804,"v":604},{"id":"r54","t":808,"v":599},{"id":"r54","t":812,"v":602},{"id":"r54","t":818,"v":598},{"id":"r54","t":824,"v":600},{"id":"r54","t":830,"v":597},{"id":"r54","t":836,"v":599},{"id":"r54","t":842,"v":596},{"id":"r54","t":848,"v":598},{"id":"r54","t":854,"v":595},{"id":"r54","t":860,"v":597},{"id":"r54","t":866,"v":599},{"id":"r54","t":872,"v":602},{"id":"r54","t":878,"v":606},{"id":"r54","t":884,"v":610},{"id":"r54","t":887,"v":612},
{"id":"r55","t":705,"v":618},{"id":"r55","t":712,"v":616},{"id":"r55","t":719,"v":619},{"id":"r55","t":726,"v":617},{"id":"r55","t":733,"v":620},{"id":"r55","t":740,"v":618},{"id":"r55","t":747,"v":621},{"id":"r55","t":754,"v":619},{"id":"r55","t":761,"v":622},{"id":"r55","t":768,"v":620},{"id":"r55","t":775,"v":618},{"id":"r55","t":782,"v":615},{"id":"r55","t":788,"v":612},{"id":"r55","t":792,"v":606},{"id":"r55","t":795,"v":599},{"id":"r55","t":798,"v":607},{"id":"r55","t":804,"v":611},{"id":"r55","t":810,"v":609},{"id":"r55","t":816,"v":612},{"id":"r55","t":822,"v":608},{"id":"r55","t":826,"v":596},{"id":"r55","t":830,"v":609},{"id":"r55","t":836,"v":606},{"id":"r55","t":842,"v":609},{"id":"r55","t":848,"v":605},{"id":"r55","t":854,"v":608},{"id":"r55","t":860,"v":603},{"id":"r55","t":866,"v":606},{"id":"r55","t":872,"v":603},{"id":"r55","t":878,"v":608},{"id":"r55","t":887,"v":612},
{"id":"r56","t":705,"v":622},{"id":"r56","t":714,"v":624},{"id":"r56","t":723,"v":621},{"id":"r56","t":732,"v":625},{"id":"r56","t":741,"v":622},{"id":"r56","t":750,"v":626},{"id":"r56","t":759,"v":623},{"id":"r56","t":768,"v":627},{"id":"r56","t":777,"v":624},{"id":"r56","t":786,"v":627},{"id":"r56","t":795,"v":623},{"id":"r56","t":804,"v":626},{"id":"r56","t":813,"v":622},{"id":"r56","t":822,"v":625},{"id":"r56","t":831,"v":621},{"id":"r56","t":840,"v":624},{"id":"r56","t":849,"v":619},{"id":"r56","t":858,"v":617},{"id":"r56","t":867,"v":613},{"id":"r56","t":876,"v":609},{"id":"r56","t":887,"v":606},
{"id":"r57","t":705,"v":627},{"id":"r57","t":714,"v":629},{"id":"r57","t":723,"v":631},{"id":"r57","t":732,"v":629},{"id":"r57","t":741,"v":632},{"id":"r57","t":750,"v":630},{"id":"r57","t":759,"v":633},{"id":"r57","t":768,"v":631},{"id":"r57","t":777,"v":633},{"id":"r57","t":786,"v":630},{"id":"r57","t":795,"v":628},{"id":"r57","t":804,"v":625},{"id":"r57","t":813,"v":622},{"id":"r57","t":822,"v":618},{"id":"r57","t":831,"v":616},{"id":"r57","t":840,"v":613},{"id":"r57","t":849,"v":611},{"id":"r57","t":858,"v":609},{"id":"r57","t":867,"v":607},{"id":"r57","t":876,"v":605},{"id":"r57","t":887,"v":603},
{"id":"r58","t":705,"v":615},{"id":"r58","t":713,"v":617},{"id":"r58","t":721,"v":616},{"id":"r58","t":729,"v":619},{"id":"r58","t":737,"v":617},{"id":"r58","t":745,"v":620},{"id":"r58","t":753,"v":618},{"id":"r58","t":761,"v":621},{"id":"r58","t":769,"v":619},{"id":"r58","t":777,"v":622},{"id":"r58","t":785,"v":620},{"id":"r58","t":793,"v":623},{"id":"r58","t":801,"v":625},{"id":"r58","t":809,"v":628},{"id":"r58","t":817,"v":630},{"id":"r58","t":825,"v":633},{"id":"r58","t":833,"v":631},{"id":"r58","t":841,"v":628},{"id":"r58","t":849,"v":626},{"id":"r58","t":857,"v":628},{"id":"r58","t":863,"v":622},{"id":"r58","t":869,"v":627},{"id":"r58","t":875,"v":633},{"id":"r58","t":881,"v":630},{"id":"r58","t":887,"v":631},
{"id":"r59","t":890,"v":607},{"id":"r59","t":897,"v":604},{"id":"r59","t":904,"v":608},{"id":"r59","t":911,"v":603},{"id":"r59","t":918,"v":607},{"id":"r59","t":925,"v":602},{"id":"r59","t":932,"v":606},{"id":"r59","t":939,"v":601},{"id":"r59","t":946,"v":605},{"id":"r59","t":953,"v":600},{"id":"r59","t":960,"v":604},{"id":"r59","t":967,"v":599},{"id":"r59","t":974,"v":603},{"id":"r59","t":981,"v":598},{"id":"r59","t":988,"v":602},{"id":"r59","t":995,"v":597},{"id":"r59","t":1002,"v":601},{"id":"r59","t":1009,"v":596},{"id":"r59","t":1016,"v":600},{"id":"r59","t":1023,"v":597},{"id":"r59","t":1030,"v":601},{"id":"r59","t":1037,"v":604},{"id":"r59","t":1044,"v":607},{"id":"r59","t":1051,"v":604},{"id":"r59","t":1058,"v":601},{"id":"r59","t":1065,"v":598},{"id":"r59","t":1073,"v":596},
{"id":"r60","t":890,"v":610},{"id":"r60","t":898,"v":613},{"id":"r60","t":906,"v":609},{"id":"r60","t":914,"v":612},{"id":"r60","t":922,"v":608},{"id":"r60","t":930,"v":612},{"id":"r60","t":938,"v":609},{"id":"r60","t":946,"v":613},{"id":"r60","t":954,"v":610},{"id":"r60","t":962,"v":614},{"id":"r60","t":970,"v":611},{"id":"r60","t":978,"v":615},{"id":"r60","t":986,"v":612},{"id":"r60","t":994,"v":616},{"id":"r60","t":1002,"v":613},{"id":"r60","t":1010,"v":617},{"id":"r60","t":1018,"v":614},{"id":"r60","t":1026,"v":612},{"id":"r60","t":1034,"v":609},{"id":"r60","t":1042,"v":612},{"id":"r60","t":1050,"v":609},{"id":"r60","t":1058,"v":612},{"id":"r60","t":1066,"v":609},{"id":"r60","t":1073,"v":607},
{"id":"r61","t":890,"v":606},{"id":"r61","t":899,"v":609},{"id":"r61","t":908,"v":605},{"id":"r61","t":917,"v":608},{"id":"r61","t":926,"v":604},{"id":"r61","t":935,"v":607},{"id":"r61","t":944,"v":611},{"id":"r61","t":953,"v":607},{"id":"r61","t":962,"v":610},{"id":"r61","t":971,"v":606},{"id":"r61","t":980,"v":609},{"id":"r61","t":989,"v":605},{"id":"r61","t":998,"v":608},{"id":"r61","t":1007,"v":604},{"id":"r61","t":1016,"v":607},{"id":"r61","t":1025,"v":603},{"id":"r61","t":1034,"v":606},{"id":"r61","t":1043,"v":602},{"id":"r61","t":1052,"v":605},{"id":"r61","t":1061,"v":603},{"id":"r61","t":1073,"v":604},
{"id":"r62","t":890,"v":612},{"id":"r62","t":900,"v":614},{"id":"r62","t":910,"v":611},{"id":"r62","t":920,"v":615},{"id":"r62","t":930,"v":612},{"id":"r62","t":940,"v":616},{"id":"r62","t":950,"v":613},{"id":"r62","t":960,"v":617},{"id":"r62","t":970,"v":614},{"id":"r62","t":980,"v":618},{"id":"r62","t":990,"v":615},{"id":"r62","t":1000,"v":619},{"id":"r62","t":1010,"v":616},{"id":"r62","t":1020,"v":618},{"id":"r62","t":1030,"v":614},{"id":"r62","t":1040,"v":616},{"id":"r62","t":1050,"v":612},{"id":"r62","t":1060,"v":615},{"id":"r62","t":1073,"v":613},
{"id":"r63","t":1075,"v":617},{"id":"r63","t":1080,"v":616},{"id":"r63","t":1085,"v":617},{"id":"r63","t":1088,"v":615},{"id":"r63","t":1090,"v":603},{"id":"r63","t":1092,"v":583},{"id":"r63","t":1094,"v":590},{"id":"r63","t":1096,"v":599},{"id":"r63","t":1099,"v":606},{"id":"r63","t":1102,"v":611},{"id":"r63","t":1106,"v":615},{"id":"r63","t":1111,"v":617},{"id":"r63","t":1113,"v":606},{"id":"r63","t":1115,"v":587},{"id":"r63","t":1117,"v":593},{"id":"r63","t":1119,"v":600},{"id":"r63","t":1122,"v":607},{"id":"r63","t":1125,"v":612},{"id":"r63","t":1129,"v":615},{"id":"r63","t":1134,"v":617},{"id":"r63","t":1136,"v":606},{"id":"r63","t":1138,"v":587},{"id":"r63","t":1140,"v":593},{"id":"r63","t":1142,"v":600},{"id":"r63","t":1145,"v":607},{"id":"r63","t":1148,"v":612},{"id":"r63","t":1152,"v":615},{"id":"r63","t":1158,"v":617},{"id":"r63","t":1160,"v":606},{"id":"r63","t":1162,"v":587},{"id":"r63","t":1164,"v":593},{"id":"r63","t":1166,"v":600},{"id":"r63","t":1169,"v":607},{"id":"r63","t":1172,"v":612},{"id":"r63","t":1176,"v":615},{"id":"r63","t":1181,"v":617},{"id":"r63","t":1183,"v":606},{"id":"r63","t":1185,"v":587},{"id":"r63","t":1187,"v":593},{"id":"r63","t":1189,"v":600},{"id":"r63","t":1192,"v":607},{"id":"r63","t":1195,"v":612},{"id":"r63","t":1199,"v":615},{"id":"r63","t":1205,"v":617},{"id":"r63","t":1207,"v":606},{"id":"r63","t":1209,"v":587},{"id":"r63","t":1211,"v":593},{"id":"r63","t":1213,"v":600},{"id":"r63","t":1216,"v":607},{"id":"r63","t":1219,"v":612},{"id":"r63","t":1223,"v":615},{"id":"r63","t":1228,"v":617},{"id":"r63","t":1230,"v":606},{"id":"r63","t":1232,"v":587},{"id":"r63","t":1234,"v":593},{"id":"r63","t":1236,"v":600},{"id":"r63","t":1239,"v":607},{"id":"r63","t":1242,"v":612},{"id":"r63","t":1246,"v":615},{"id":"r63","t":1251,"v":617},{"id":"r63","t":1253,"v":606},{"id":"r63","t":1255,"v":590},{"id":"r63","t":1256,"v":587},
{"id":"r64","t":1094,"v":334},{"id":"r64","t":1096,"v":327},{"id":"r64","t":1098,"v":342},{"id":"r64","t":1100,"v":324},{"id":"r64","t":1102,"v":346},{"id":"r64","t":1104,"v":322},{"id":"r64","t":1106,"v":349},{"id":"r64","t":1108,"v":323},{"id":"r64","t":1110,"v":344},{"id":"r64","t":1112,"v":327},{"id":"r64","t":1114,"v":340},{"id":"r64","t":1116,"v":330},{"id":"r64","t":1118,"v":336},{"id":"r64","t":1120,"v":334}
],
"gray": [
{"id":"g1","t":303,"v":332},{"id":"g1","t":306,"v":331},{"id":"g1","t":309,"v":333},{"id":"g1","t":312,"v":331.5},{"id":"g1","t":315,"v":332.5},{"id":"g1","t":318,"v":331},{"id":"g1","t":321,"v":333},{"id":"g1","t":324,"v":331},{"id":"g1","t":327,"v":333.5},{"id":"g1","t":330,"v":330.5},{"id":"g1","t":333,"v":333.5},{"id":"g1","t":336,"v":331},{"id":"g1","t":339,"v":333},{"id":"g1","t":342,"v":331.5},{"id":"g1","t":345,"v":332.5},{"id":"g1","t":348,"v":331.5},{"id":"g1","t":351,"v":332.5},{"id":"g1","t":354,"v":331.5},{"id":"g1","t":357,"v":332.5},{"id":"g1","t":360,"v":331.5},{"id":"g1","t":363,"v":332.5},{"id":"g1","t":366,"v":331.5},{"id":"g1","t":369,"v":332.5},{"id":"g1","t":372,"v":331.5},{"id":"g1","t":376,"v":332.5},{"id":"g1","t":380,"v":331.5},{"id":"g1","t":384,"v":332.5},{"id":"g1","t":388,"v":332},{"id":"g1","t":488,"v":332},
{"id":"g2","t":490,"v":332},{"id":"g2","t":493,"v":331.5},{"id":"g2","t":496,"v":332.5},{"id":"g2","t":499,"v":331.5},{"id":"g2","t":502,"v":332.5},{"id":"g2","t":505,"v":331},{"id":"g2","t":508,"v":333},{"id":"g2","t":511,"v":331},{"id":"g2","t":514,"v":333},{"id":"g2","t":517,"v":330.5},{"id":"g2","t":520,"v":333.5},{"id":"g2","t":523,"v":331},{"id":"g2","t":526,"v":333},{"id":"g2","t":529,"v":331.5},{"id":"g2","t":532,"v":332.5},{"id":"g2","t":535,"v":331.5},{"id":"g2","t":538,"v":332.5},{"id":"g2","t":541,"v":331.5},{"id":"g2","t":544,"v":332.5},{"id":"g2","t":547,"v":331.5},{"id":"g2","t":550,"v":332.5},{"id":"g2","t":554,"v":331.5},{"id":"g2","t":558,"v":332.5},{"id":"g2","t":562,"v":331.8},{"id":"g2","t":566,"v":332.2},{"id":"g2","t":570,"v":332},{"id":"g2","t":677,"v":332},
{"id":"g3","t":705,"v":334},{"id":"g3","t":708,"v":333},{"id":"g3","t":711,"v":335},{"id":"g3","t":714,"v":333},{"id":"g3","t":717,"v":335},{"id":"g3","t":720,"v":332.5},{"id":"g3","t":723,"v":335.5},{"id":"g3","t":726,"v":332},{"id":"g3","t":729,"v":336},{"id":"g3","t":732,"v":332},{"id":"g3","t":735,"v":335.5},{"id":"g3","t":738,"v":332.5},{"id":"g3","t":741,"v":335},{"id":"g3","t":744,"v":333},{"id":"g3","t":747,"v":334.5},{"id":"g3","t":750,"v":333.5},{"id":"g3","t":754,"v":334.5},{"id":"g3","t":758,"v":333.5},{"id":"g3","t":762,"v":334},{"id":"g3","t":800,"v":334},{"id":"g3","t":803,"v":332.5},{"id":"g3","t":805,"v":336},{"id":"g3","t":807,"v":332},{"id":"g3","t":809,"v":335},{"id":"g3","t":812,"v":334},{"id":"g3","t":883,"v":334},
{"id":"g4","t":888,"v":334},{"id":"g4","t":891,"v":333},{"id":"g4","t":894,"v":335},{"id":"g4","t":897,"v":333},{"id":"g4","t":900,"v":335},{"id":"g4","t":903,"v":332.5},{"id":"g4","t":906,"v":335.5},{"id":"g4","t":909,"v":332},{"id":"g4","t":912,"v":336},{"id":"g4","t":915,"v":332},{"id":"g4","t":918,"v":335.5},{"id":"g4","t":921,"v":332.5},{"id":"g4","t":924,"v":335},{"id":"g4","t":927,"v":333},{"id":"g4","t":930,"v":335},{"id":"g4","t":933,"v":333},{"id":"g4","t":936,"v":334.5},{"id":"g4","t":940,"v":333.5},{"id":"g4","t":944,"v":334},{"id":"g4","t":955,"v":334},{"id":"g4","t":958,"v":332},{"id":"g4","t":960,"v":337},{"id":"g4","t":962,"v":332},{"id":"g4","t":964,"v":335},{"id":"g4","t":966,"v":334},{"id":"g4","t":990,"v":334},{"id":"g4","t":993,"v":332},{"id":"g4","t":996,"v":336},{"id":"g4","t":999,"v":332},{"id":"g4","t":1002,"v":336},{"id":"g4","t":1004,"v":330},{"id":"g4","t":1006,"v":340},{"id":"g4","t":1007,"v":323},{"id":"g4","t":1008,"v":343},{"id":"g4","t":1009,"v":330},{"id":"g4","t":1010,"v":338},{"id":"g4","t":1012,"v":333},{"id":"g4","t":1015,"v":334},{"id":"g4","t":1073,"v":334},
{"id":"g5","t":1073,"v":334},{"id":"g5","t":1076,"v":333},{"id":"g5","t":1079,"v":335},{"id":"g5","t":1082,"v":333},{"id":"g5","t":1085,"v":335},{"id":"g5","t":1088,"v":332.5},{"id":"g5","t":1091,"v":336},{"id":"g5","t":1094,"v":331},{"id":"g5","t":1096,"v":338},{"id":"g5","t":1098,"v":326},{"id":"g5","t":1100,"v":344},{"id":"g5","t":1102,"v":322},{"id":"g5","t":1104,"v":348},{"id":"g5","t":1106,"v":320},{"id":"g5","t":1108,"v":346},{"id":"g5","t":1110,"v":325},{"id":"g5","t":1112,"v":342},{"id":"g5","t":1114,"v":328},{"id":"g5","t":1116,"v":338},{"id":"g5","t":1118,"v":331},{"id":"g5","t":1120,"v":336},{"id":"g5","t":1122,"v":332},{"id":"g5","t":1125,"v":335},{"id":"g5","t":1128,"v":333},{"id":"g5","t":1132,"v":334.5},{"id":"g5","t":1136,"v":333.5},{"id":"g5","t":1140,"v":334},{"id":"g5","t":1155,"v":334},{"id":"g5","t":1158,"v":333},{"id":"g5","t":1161,"v":335},{"id":"g5","t":1164,"v":333},{"id":"g5","t":1167,"v":335},{"id":"g5","t":1170,"v":333.5},{"id":"g5","t":1174,"v":334.5},{"id":"g5","t":1178,"v":333},{"id":"g5","t":1181,"v":335},{"id":"g5","t":1184,"v":334},{"id":"g5","t":1257,"v":334},
{"id":"g7","t":303,"v":473},{"id":"g7","t":310,"v":473.5},{"id":"g7","t":317,"v":472.5},{"id":"g7","t":324,"v":473.5},{"id":"g7","t":331,"v":473},{"id":"g7","t":338,"v":473.5},{"id":"g7","t":345,"v":473},{"id":"g7","t":352,"v":473.5},{"id":"g7","t":360,"v":474},{"id":"g7","t":368,"v":473.5},{"id":"g7","t":376,"v":473},{"id":"g7","t":384,"v":473.5},{"id":"g7","t":392,"v":472.5},{"id":"g7","t":400,"v":472},{"id":"g7","t":408,"v":472.5},{"id":"g7","t":416,"v":471.5},{"id":"g7","t":424,"v":471.5},{"id":"g7","t":432,"v":472},{"id":"g7","t":440,"v":471.5},{"id":"g7","t":448,"v":472},{"id":"g7","t":456,"v":471.5},{"id":"g7","t":464,"v":472},{"id":"g7","t":472,"v":471},{"id":"g7","t":478,"v":470},{"id":"g7","t":482,"v":471},{"id":"g7","t":488,"v":472},
{"id":"g8","t":308,"v":669},{"id":"g8","t":318,"v":668.5},{"id":"g8","t":328,"v":669.5},{"id":"g8","t":338,"v":668.5},{"id":"g8","t":348,"v":669},{"id":"g8","t":358,"v":668.5},{"id":"g8","t":368,"v":669.5},{"id":"g8","t":378,"v":668.5},{"id":"g8","t":388,"v":669},{"id":"g8","t":398,"v":668.5},{"id":"g8","t":408,"v":669.5},{"id":"g8","t":418,"v":668.5},{"id":"g8","t":428,"v":669},{"id":"g8","t":438,"v":668.5},{"id":"g8","t":448,"v":669},{"id":"g8","t":458,"v":668.5},{"id":"g8","t":468,"v":669},{"id":"g8","t":478,"v":668.5},{"id":"g8","t":494,"v":669},
{"id":"g9","t":497,"v":669},{"id":"g9","t":507,"v":668.5},{"id":"g9","t":517,"v":669.5},{"id":"g9","t":527,"v":668.5},{"id":"g9","t":537,"v":669},{"id":"g9","t":547,"v":668.5},{"id":"g9","t":557,"v":669.5},{"id":"g9","t":567,"v":668.5},{"id":"g9","t":577,"v":669},{"id":"g9","t":587,"v":668.5},{"id":"g9","t":597,"v":669.5},{"id":"g9","t":607,"v":668.5},{"id":"g9","t":617,"v":669},{"id":"g9","t":627,"v":668.5},{"id":"g9","t":637,"v":669},{"id":"g9","t":647,"v":668.5},{"id":"g9","t":657,"v":669},{"id":"g9","t":667,"v":668.5},{"id":"g9","t":677,"v":669},
{"id":"g10","t":705,"v":655},{"id":"g10","t":720,"v":654.5},{"id":"g10","t":735,"v":655.5},{"id":"g10","t":750,"v":654.5},{"id":"g10","t":765,"v":655.5},{"id":"g10","t":780,"v":654.5},{"id":"g10","t":795,"v":655.5},{"id":"g10","t":810,"v":654.5},{"id":"g10","t":825,"v":655.5},{"id":"g10","t":840,"v":654.5},{"id":"g10","t":855,"v":655.5},{"id":"g10","t":870,"v":654.5},{"id":"g10","t":887,"v":655},
{"id":"g11","t":890,"v":655},{"id":"g11","t":905,"v":654.5},{"id":"g11","t":920,"v":655.5},{"id":"g11","t":935,"v":654.5},{"id":"g11","t":950,"v":655.5},{"id":"g11","t":965,"v":654.5},{"id":"g11","t":980,"v":655.5},{"id":"g11","t":995,"v":654.5},{"id":"g11","t":1010,"v":655.5},{"id":"g11","t":1025,"v":654.5},{"id":"g11","t":1040,"v":655.5},{"id":"g11","t":1055,"v":654.5},{"id":"g11","t":1073,"v":655},
{"id":"g12","t":1075,"v":655},{"id":"g12","t":1080,"v":656},{"id":"g12","t":1085,"v":657},{"id":"g12","t":1089,"v":655},{"id":"g12","t":1091,"v":645},{"id":"g12","t":1093,"v":637},{"id":"g12","t":1095,"v":640},{"id":"g12","t":1098,"v":646},{"id":"g12","t":1101,"v":651},{"id":"g12","t":1105,"v":655},{"id":"g12","t":1110,"v":658},{"id":"g12","t":1113,"v":650},{"id":"g12","t":1115,"v":637},{"id":"g12","t":1117,"v":641},{"id":"g12","t":1120,"v":647},{"id":"g12","t":1124,"v":652},{"id":"g12","t":1128,"v":656},{"id":"g12","t":1133,"v":658},{"id":"g12","t":1136,"v":650},{"id":"g12","t":1138,"v":637},{"id":"g12","t":1140,"v":641},{"id":"g12","t":1143,"v":647},{"id":"g12","t":1147,"v":652},{"id":"g12","t":1151,"v":656},{"id":"g12","t":1157,"v":658},{"id":"g12","t":1160,"v":650},{"id":"g12","t":1162,"v":637},{"id":"g12","t":1164,"v":641},{"id":"g12","t":1167,"v":647},{"id":"g12","t":1171,"v":652},{"id":"g12","t":1175,"v":656},{"id":"g12","t":1180,"v":658},{"id":"g12","t":1183,"v":650},{"id":"g12","t":1185,"v":637},{"id":"g12","t":1187,"v":641},{"id":"g12","t":1190,"v":647},{"id":"g12","t":1194,"v":652},{"id":"g12","t":1198,"v":656},{"id":"g12","t":1204,"v":658},{"id":"g12","t":1207,"v":650},{"id":"g12","t":1209,"v":637},{"id":"g12","t":1211,"v":641},{"id":"g12","t":1214,"v":647},{"id":"g12","t":1218,"v":652},{"id":"g12","t":1222,"v":656},{"id":"g12","t":1227,"v":658},{"id":"g12","t":1230,"v":650},{"id":"g12","t":1232,"v":637},{"id":"g12","t":1234,"v":641},{"id":"g12","t":1237,"v":647},{"id":"g12","t":1241,"v":652},{"id":"g12","t":1245,"v":656},{"id":"g12","t":1250,"v":658},{"id":"g12","t":1253,"v":650},{"id":"g12","t":1256,"v":637},
{"id":"g13","t":308,"v":692},{"id":"g13","t":494,"v":692},
{"id":"g14","t":497,"v":692},{"id":"g14","t":677,"v":692},
{"id":"g15","t":705,"v":683},{"id":"g15","t":720,"v":682.5},{"id":"g15","t":740,"v":683.5},{"id":"g15","t":760,"v":682.5},{"id":"g15","t":780,"v":683.5},{"id":"g15","t":800,"v":682.5},{"id":"g15","t":820,"v":683.5},{"id":"g15","t":840,"v":682.5},{"id":"g15","t":860,"v":683.5},{"id":"g15","t":887,"v":683},
{"id":"g16","t":890,"v":683},{"id":"g16","t":910,"v":682.5},{"id":"g16","t":930,"v":683.5},{"id":"g16","t":950,"v":682.5},{"id":"g16","t":970,"v":683.5},{"id":"g16","t":990,"v":682.5},{"id":"g16","t":1010,"v":683.5},{"id":"g16","t":1030,"v":682.5},{"id":"g16","t":1050,"v":683.5},{"id":"g16","t":1073,"v":683}
],
"smooth": [
{"id":"s1","t":1075,"v":688},{"id":"s1","t":1081,"v":692},{"id":"s1","t":1087,"v":684},{"id":"s1","t":1093,"v":675},{"id":"s1","t":1099,"v":683},{"id":"s1","t":1105,"v":692},{"id":"s1","t":1111,"v":684},{"id":"s1","t":1117,"v":675},{"id":"s1","t":1123,"v":683},{"id":"s1","t":1128,"v":692},{"id":"s1","t":1134,"v":684},{"id":"s1","t":1140,"v":675},{"id":"s1","t":1146,"v":683},{"id":"s1","t":1152,"v":692},{"id":"s1","t":1158,"v":684},{"id":"s1","t":1164,"v":675},{"id":"s1","t":1170,"v":683},{"id":"s1","t":1175,"v":692},{"id":"s1","t":1181,"v":684},{"id":"s1","t":1187,"v":675},{"id":"s1","t":1193,"v":683},{"id":"s1","t":1199,"v":692},{"id":"s1","t":1205,"v":684},{"id":"s1","t":1211,"v":675},{"id":"s1","t":1217,"v":683},{"id":"s1","t":1222,"v":692},{"id":"s1","t":1228,"v":684},{"id":"s1","t":1234,"v":675},{"id":"s1","t":1240,"v":683},{"id":"s1","t":1246,"v":692},{"id":"s1","t":1251,"v":685},{"id":"s1","t":1256,"v":677}
],
"hold": [
{"id":"h1","t":394,"v":159},{"id":"h1","t":403,"v":145},{"id":"h1","t":488,"v":145},
{"id":"h2","t":394,"v":159},{"id":"h2","t":403,"v":150},{"id":"h2","t":488,"v":150},
{"id":"h3","t":394,"v":159},{"id":"h3","t":403,"v":157},{"id":"h3","t":488,"v":157},
{"id":"h4","t":394,"v":160},{"id":"h4","t":403,"v":160},{"id":"h4","t":488,"v":160},
{"id":"h5","t":394,"v":160},{"id":"h5","t":403,"v":162},{"id":"h5","t":488,"v":162},
{"id":"h6","t":396,"v":161},{"id":"h6","t":404,"v":163.5},{"id":"h6","t":488,"v":163.5},
{"id":"h7","t":396,"v":161},{"id":"h7","t":404,"v":165},{"id":"h7","t":488,"v":165},
{"id":"h8","t":396,"v":162},{"id":"h8","t":404,"v":167},{"id":"h8","t":488,"v":167},
{"id":"h9","t":396,"v":162},{"id":"h9","t":405,"v":170},{"id":"h9","t":488,"v":170},
{"id":"h10","t":580,"v":166},{"id":"h10","t":584,"v":162},{"id":"h10","t":677,"v":162},
{"id":"h11","t":580,"v":166},{"id":"h11","t":584,"v":164},{"id":"h11","t":677,"v":164},
{"id":"h12","t":580,"v":166},{"id":"h12","t":584,"v":166},{"id":"h12","t":677,"v":166},
{"id":"h13","t":580,"v":166},{"id":"h13","t":584,"v":168},{"id":"h13","t":677,"v":168},
{"id":"h14","t":580,"v":166},{"id":"h14","t":585,"v":170},{"id":"h14","t":677,"v":170},
{"id":"h15","t":828,"v":135},{"id":"h15","t":832,"v":134},{"id":"h15","t":886,"v":134},
{"id":"h16","t":828,"v":135},{"id":"h16","t":832,"v":135.5},{"id":"h16","t":886,"v":135.5},
{"id":"h17","t":828,"v":135},{"id":"h17","t":832,"v":137},{"id":"h17","t":886,"v":137},
{"id":"h18","t":828,"v":136},{"id":"h18","t":832,"v":138.5},{"id":"h18","t":886,"v":138.5},
{"id":"h19","t":1005,"v":155},{"id":"h19","t":1008,"v":152},{"id":"h19","t":1071,"v":152},
{"id":"h20","t":1005,"v":155},{"id":"h20","t":1008,"v":154},{"id":"h20","t":1071,"v":154},
{"id":"h21","t":1005,"v":155},{"id":"h21","t":1008,"v":156},{"id":"h21","t":1071,"v":156},
{"id":"h22","t":1005,"v":155},{"id":"h22","t":1008,"v":158},{"id":"h22","t":1071,"v":158},
{"id":"h23","t":394,"v":232},{"id":"h23","t":488,"v":232},
{"id":"h24","t":396,"v":238},{"id":"h24","t":400,"v":238},{"id":"h24","t":488,"v":238},
{"id":"h25","t":396,"v":238},{"id":"h25","t":400,"v":239},{"id":"h25","t":488,"v":239},
{"id":"h26","t":396,"v":238},{"id":"h26","t":400,"v":240},{"id":"h26","t":488,"v":240},
{"id":"h27","t":396,"v":238},{"id":"h27","t":400,"v":241},{"id":"h27","t":488,"v":241},
{"id":"h28","t":396,"v":238},{"id":"h28","t":401,"v":242},{"id":"h28","t":488,"v":242},
{"id":"h29","t":580,"v":236},{"id":"h29","t":584,"v":237},{"id":"h29","t":677,"v":237},
{"id":"h30","t":580,"v":236},{"id":"h30","t":584,"v":238},{"id":"h30","t":677,"v":238},
{"id":"h31","t":580,"v":236},{"id":"h31","t":584,"v":239},{"id":"h31","t":677,"v":239},
{"id":"h32","t":580,"v":236},{"id":"h32","t":584,"v":240},{"id":"h32","t":677,"v":240},
{"id":"h33","t":814,"v":222},{"id":"h33","t":818,"v":215},{"id":"h33","t":886,"v":215},
{"id":"h34","t":814,"v":222},{"id":"h34","t":818,"v":222},{"id":"h34","t":886,"v":222},
{"id":"h35","t":814,"v":222},{"id":"h35","t":818,"v":224},{"id":"h35","t":886,"v":224},
{"id":"h36","t":814,"v":222},{"id":"h36","t":818,"v":226},{"id":"h36","t":886,"v":226},
{"id":"h37","t":1008,"v":202},{"id":"h37","t":1071,"v":202},
{"id":"h38","t":1008,"v":219},{"id":"h38","t":1071,"v":219},
{"id":"h39","t":1008,"v":221},{"id":"h39","t":1071,"v":221},
{"id":"h40","t":1008,"v":229},{"id":"h40","t":1071,"v":229},
{"id":"h41","t":1008,"v":231},{"id":"h41","t":1071,"v":231}
],
"stim": [
{"t":317,"v":148,"v2":185},{"t":347,"v":148,"v2":185},{"t":386,"v":142,"v2":178},{"t":504,"v":148,"v2":185},{"t":534,"v":148,"v2":185},{"t":572,"v":144,"v2":181},{"t":719,"v":151,"v2":191},{"t":747,"v":151,"v2":191},{"t":784,"v":115,"v2":156},{"t":903,"v":151,"v2":191},{"t":937,"v":151,"v2":191},{"t":973,"v":134,"v2":172},{"t":1088,"v":151,"v2":191},{"t":1108,"v":151,"v2":191},{"t":1159,"v":84,"v2":125},
{"t":317,"v":215,"v2":253},{"t":332,"v":228,"v2":265},{"t":362,"v":218,"v2":257},{"t":504,"v":215,"v2":253},{"t":520,"v":228,"v2":265},{"t":556,"v":217,"v2":254},{"t":719,"v":206,"v2":247},{"t":734,"v":249,"v2":289},{"t":768,"v":189,"v2":230},{"t":903,"v":206,"v2":247},{"t":918,"v":239,"v2":282},{"t":955,"v":189,"v2":230},{"t":1088,"v":206,"v2":247},{"t":1127,"v":182,"v2":221},
{"t":317,"v":313,"v2":328},{"t":317,"v":336,"v2":351},{"t":324,"v":313,"v2":328},{"t":324,"v":336,"v2":351},{"t":326,"v":313,"v2":328},{"t":326,"v":336,"v2":351},{"t":330,"v":313,"v2":328},{"t":330,"v":336,"v2":351},{"t":334,"v":313,"v2":328},{"t":334,"v":336,"v2":351},{"t":338,"v":313,"v2":328},{"t":338,"v":336,"v2":351},{"t":342,"v":313,"v2":328},{"t":342,"v":336,"v2":351},{"t":344,"v":313,"v2":328},{"t":344,"v":336,"v2":351},{"t":348,"v":313,"v2":328},{"t":348,"v":336,"v2":351},{"t":352,"v":313,"v2":328},{"t":352,"v":336,"v2":351},{"t":355,"v":313,"v2":328},{"t":355,"v":336,"v2":351},{"t":357,"v":313,"v2":328},{"t":357,"v":336,"v2":351},
{"t":504,"v":313,"v2":328},{"t":504,"v":336,"v2":351},{"t":513,"v":313,"v2":328},{"t":513,"v":336,"v2":351},{"t":515,"v":313,"v2":328},{"t":515,"v":336,"v2":351},{"t":518,"v":313,"v2":328},{"t":518,"v":336,"v2":351},{"t":521,"v":313,"v2":328},{"t":521,"v":336,"v2":351},{"t":524,"v":313,"v2":328},{"t":524,"v":336,"v2":351},{"t":527,"v":313,"v2":328},{"t":527,"v":336,"v2":351},{"t":530,"v":313,"v2":328},{"t":530,"v":336,"v2":351},{"t":533,"v":313,"v2":328},{"t":533,"v":336,"v2":351},{"t":536,"v":313,"v2":328},{"t":536,"v":336,"v2":351},{"t":540,"v":313,"v2":328},{"t":540,"v":336,"v2":351},{"t":543,"v":313,"v2":328},{"t":543,"v":336,"v2":351},{"t":545,"v":313,"v2":328},{"t":545,"v":336,"v2":351},
{"t":718,"v":315,"v2":330},{"t":718,"v":338,"v2":353},{"t":722,"v":315,"v2":330},{"t":722,"v":338,"v2":353},{"t":724,"v":315,"v2":330},{"t":724,"v":338,"v2":353},{"t":727,"v":315,"v2":330},{"t":727,"v":338,"v2":353},{"t":730,"v":315,"v2":330},{"t":730,"v":338,"v2":353},{"t":733,"v":315,"v2":330},{"t":733,"v":338,"v2":353},{"t":736,"v":315,"v2":330},{"t":736,"v":338,"v2":353},{"t":739,"v":315,"v2":330},{"t":739,"v":338,"v2":353},{"t":742,"v":315,"v2":330},{"t":742,"v":338,"v2":353},{"t":745,"v":315,"v2":330},{"t":745,"v":338,"v2":353},{"t":748,"v":315,"v2":330},{"t":748,"v":338,"v2":353},{"t":751,"v":315,"v2":330},{"t":751,"v":338,"v2":353},{"t":754,"v":315,"v2":330},{"t":754,"v":338,"v2":353},{"t":757,"v":315,"v2":330},{"t":757,"v":338,"v2":353},
{"t":903,"v":315,"v2":330},{"t":903,"v":338,"v2":353},{"t":908,"v":315,"v2":330},{"t":908,"v":338,"v2":353},{"t":910,"v":315,"v2":330},{"t":910,"v":338,"v2":353},{"t":913,"v":315,"v2":330},{"t":913,"v":338,"v2":353},{"t":916,"v":315,"v2":330},{"t":916,"v":338,"v2":353},{"t":919,"v":315,"v2":330},{"t":919,"v":338,"v2":353},{"t":922,"v":315,"v2":330},{"t":922,"v":338,"v2":353},{"t":926,"v":315,"v2":330},{"t":926,"v":338,"v2":353},{"t":929,"v":315,"v2":330},{"t":929,"v":338,"v2":353},{"t":933,"v":315,"v2":330},{"t":933,"v":338,"v2":353},{"t":937,"v":315,"v2":330},{"t":937,"v":338,"v2":353},{"t":940,"v":315,"v2":330},{"t":940,"v":338,"v2":353},{"t":943,"v":315,"v2":330},{"t":943,"v":338,"v2":353},
{"t":1088,"v":313,"v2":330},{"t":1088,"v":338,"v2":353},{"t":1092,"v":313,"v2":330},{"t":1092,"v":338,"v2":353},{"t":1095,"v":313,"v2":330},{"t":1095,"v":338,"v2":353},{"t":1098,"v":311,"v2":330},{"t":1098,"v":338,"v2":358},{"t":1101,"v":311,"v2":330},{"t":1101,"v":338,"v2":362},{"t":1104,"v":308,"v2":330},{"t":1104,"v":338,"v2":370},{"t":1107,"v":311,"v2":330},{"t":1107,"v":338,"v2":364},{"t":1110,"v":311,"v2":330},{"t":1110,"v":338,"v2":360},{"t":1113,"v":313,"v2":330},{"t":1113,"v":338,"v2":353},{"t":1116,"v":313,"v2":330},{"t":1116,"v":338,"v2":353},{"t":1119,"v":313,"v2":330},{"t":1119,"v":338,"v2":353},{"t":1122,"v":313,"v2":330},{"t":1122,"v":338,"v2":353},{"t":1125,"v":313,"v2":330},{"t":1125,"v":338,"v2":353},{"t":1128,"v":313,"v2":330},{"t":1128,"v":338,"v2":353},
{"t":339,"v":453,"v2":493},{"t":388,"v":453,"v2":493},{"t":427,"v":452,"v2":490},{"t":527,"v":453,"v2":493},{"t":582,"v":453,"v2":493},{"t":628,"v":452,"v2":490},{"t":740,"v":465,"v2":502},{"t":788,"v":465,"v2":502},{"t":834,"v":462,"v2":500},{"t":925,"v":462,"v2":500},{"t":967,"v":462,"v2":500},{"t":1002,"v":462,"v2":500},{"t":1110,"v":465,"v2":502},{"t":1134,"v":505,"v2":527},{"t":1160,"v":399,"v2":410},
{"t":308,"v":611,"v2":665},{"t":308,"v":673,"v2":688},{"t":308,"v":696,"v2":710},{"t":327,"v":611,"v2":665},{"t":327,"v":673,"v2":688},{"t":327,"v":696,"v2":710},{"t":333,"v":611,"v2":665},{"t":333,"v":673,"v2":688},{"t":333,"v":696,"v2":710},{"t":357,"v":611,"v2":665},{"t":357,"v":673,"v2":688},{"t":357,"v":696,"v2":710},{"t":382,"v":611,"v2":665},{"t":382,"v":673,"v2":688},{"t":382,"v":696,"v2":710},{"t":405,"v":611,"v2":665},{"t":405,"v":673,"v2":688},{"t":405,"v":696,"v2":710},{"t":428,"v":611,"v2":665},{"t":428,"v":673,"v2":688},{"t":428,"v":696,"v2":710},{"t":453,"v":611,"v2":665},{"t":453,"v":673,"v2":688},{"t":453,"v":696,"v2":710},{"t":477,"v":611,"v2":665},{"t":477,"v":673,"v2":688},{"t":477,"v":696,"v2":710},{"t":323,"v":673,"v2":688},{"t":323,"v":696,"v2":710},
{"t":497,"v":611,"v2":665},{"t":497,"v":673,"v2":688},{"t":497,"v":696,"v2":710},{"t":518,"v":611,"v2":665},{"t":518,"v":673,"v2":688},{"t":518,"v":696,"v2":710},{"t":521,"v":611,"v2":665},{"t":521,"v":673,"v2":688},{"t":521,"v":696,"v2":710},{"t":545,"v":611,"v2":665},{"t":545,"v":673,"v2":688},{"t":545,"v":696,"v2":710},{"t":569,"v":611,"v2":665},{"t":569,"v":673,"v2":688},{"t":569,"v":696,"v2":710},{"t":593,"v":611,"v2":665},{"t":593,"v":673,"v2":688},{"t":593,"v":696,"v2":710},{"t":617,"v":611,"v2":665},{"t":617,"v":673,"v2":688},{"t":617,"v":696,"v2":710},{"t":641,"v":611,"v2":665},{"t":641,"v":673,"v2":688},{"t":641,"v":696,"v2":710},{"t":665,"v":611,"v2":665},{"t":665,"v":673,"v2":688},{"t":665,"v":696,"v2":710},{"t":525,"v":673,"v2":688},
{"t":705,"v":590,"v2":650},{"t":705,"v":660,"v2":678},{"t":705,"v":688,"v2":705},{"t":728,"v":590,"v2":650},{"t":728,"v":660,"v2":678},{"t":728,"v":688,"v2":705},{"t":732,"v":590,"v2":650},{"t":732,"v":660,"v2":678},{"t":732,"v":688,"v2":705},{"t":752,"v":590,"v2":650},{"t":752,"v":660,"v2":678},{"t":752,"v":688,"v2":705},{"t":777,"v":590,"v2":650},{"t":777,"v":660,"v2":678},{"t":777,"v":688,"v2":705},{"t":798,"v":590,"v2":650},{"t":798,"v":660,"v2":678},{"t":798,"v":688,"v2":705},{"t":823,"v":590,"v2":650},{"t":823,"v":660,"v2":678},{"t":823,"v":688,"v2":705},{"t":847,"v":590,"v2":650},{"t":847,"v":660,"v2":678},{"t":847,"v":688,"v2":705},{"t":870,"v":590,"v2":650},{"t":870,"v":660,"v2":678},{"t":870,"v":688,"v2":705},
{"t":888,"v":590,"v2":650},{"t":888,"v":660,"v2":678},{"t":888,"v":688,"v2":705},{"t":913,"v":590,"v2":650},{"t":913,"v":660,"v2":678},{"t":913,"v":688,"v2":705},{"t":917,"v":590,"v2":650},{"t":917,"v":660,"v2":678},{"t":917,"v":688,"v2":705},{"t":937,"v":590,"v2":650},{"t":937,"v":660,"v2":678},{"t":937,"v":688,"v2":705},{"t":960,"v":590,"v2":650},{"t":960,"v":660,"v2":678},{"t":960,"v":688,"v2":705},{"t":983,"v":590,"v2":650},{"t":983,"v":660,"v2":678},{"t":983,"v":688,"v2":705},{"t":1008,"v":590,"v2":650},{"t":1008,"v":660,"v2":678},{"t":1008,"v":688,"v2":705},{"t":1032,"v":590,"v2":650},{"t":1032,"v":660,"v2":678},{"t":1032,"v":688,"v2":705},{"t":1055,"v":590,"v2":650},{"t":1055,"v":660,"v2":678},{"t":1055,"v":688,"v2":705},
{"t":1073,"v":590,"v2":650},{"t":1073,"v":660,"v2":678},{"t":1073,"v":688,"v2":705},{"t":1093,"v":566,"v2":650},{"t":1093,"v":660,"v2":678},{"t":1093,"v":688,"v2":705},{"t":1120,"v":590,"v2":650},{"t":1120,"v":660,"v2":678},{"t":1120,"v":688,"v2":705},{"t":1145,"v":590,"v2":650},{"t":1145,"v":660,"v2":678},{"t":1145,"v":688,"v2":705},{"t":1168,"v":590,"v2":650},{"t":1168,"v":660,"v2":678},{"t":1168,"v":688,"v2":705},{"t":1193,"v":590,"v2":650},{"t":1193,"v":660,"v2":678},{"t":1193,"v":688,"v2":705},{"t":1217,"v":590,"v2":650},{"t":1217,"v":660,"v2":678},{"t":1217,"v":688,"v2":705},{"t":1240,"v":590,"v2":650},{"t":1240,"v":660,"v2":678},{"t":1240,"v":688,"v2":705}
],
"bars": [
{"t":1262,"t2":1262,"v":312,"v2":352},{"t":1258,"t2":1262,"v":312,"v2":312},{"t":1258,"t2":1262,"v":352,"v2":352},{"t":1222,"t2":1257,"v":367,"v2":367},{"t":1222,"t2":1222,"v":363,"v2":367},{"t":1257,"t2":1257,"v":363,"v2":367},
{"t":1262,"t2":1262,"v":492,"v2":523},{"t":1258,"t2":1262,"v":492,"v2":492},{"t":1258,"t2":1262,"v":523,"v2":523},{"t":1222,"t2":1257,"v":531,"v2":531},{"t":1222,"t2":1222,"v":527,"v2":531},{"t":1257,"t2":1257,"v":527,"v2":531},
{"t":1265,"t2":1265,"v":657,"v2":693},{"t":1261,"t2":1265,"v":657,"v2":657},{"t":1261,"t2":1265,"v":693,"v2":693},{"t":1222,"t2":1257,"v":703,"v2":703},{"t":1222,"t2":1222,"v":699,"v2":703},{"t":1257,"t2":1257,"v":699,"v2":703}
],
"labels": [
{"role":"title","text":"A. Patient 1","t":486,"v":35},
{"role":"title","text":"B. Patient 2","t":929,"v":35},
{"role":"header","text":"Right Eye","t":393,"v":86},
{"role":"header","text":"Left Eye","t":578,"v":86},
{"role":"header","text":"Right Eye","t":796,"v":73},
{"role":"header","text":"Left Eye","t":980,"v":73},
{"role":"header","text":"Normal","t":1165,"v":73},
{"role":"section","text":"Dark Adapted Single Flash","t":28,"v":106},
{"role":"section","text":"Dark Adapted OPs (100-300 HZ)","t":28,"v":301},
{"role":"section","text":"Light Adapted Single Flash","t":28,"v":408},
{"role":"section","text":"Light Adapted 30.3 HZ Flicker","t":35,"v":573},
{"role":"sub","text":"Dark adapted .01 ERG","t":59,"v":170},
{"role":"sub","text":"Dark adapted 6.0 ERG","t":59,"v":238},
{"role":"sub","text":"Dark adapted 6.0 OP","t":59,"v":336},
{"role":"sub","text":"Light adapted 6.0 ERG","t":59,"v":477},
{"role":"sub","text":"3.0 Flicker","t":65,"v":632},
{"role":"sub","text":"DFT with background","t":65,"v":671},
{"role":"sub","text":"DFT Fundamental with background","t":65,"v":695},
{"role":"unit","text":"50 ms","t":1240,"v":376},
{"role":"unit","text":"20 ms","t":1240,"v":539},
{"role":"unit","text":"50 ms","t":1240,"v":711},
{"role":"unitv","text":"100 µV","t":1269,"v":332},
{"role":"unitv","text":"50 µV","t":1269,"v":507},
{"role":"unitv","text":"100 µV","t":1272,"v":675},
{"role":"fig","text":"Fig. 6","t":12,"v":741},
{"role":"caption","text":"Full-field ERGs responses are shown for A – Patient 1 and B – Patient 2. The rod responses are moderately to severely decreased for both","t":68,"v":741},
{"role":"caption","text":"patients (A and B). Cone responses to LA 3.0 and 30 Hz flicker stimuli were severely attenuated in both patierns","t":12,"v":767}
]
},
"encoding": {
"x": {"field": "t", "type": "quantitative", "scale": {"domain": [7, 1285], "nice": false, "zero": false}, "axis": null},
"y": {"field": "v", "type": "quantitative", "scale": {"domain": [12, 779], "nice": false, "zero": false, "reverse": true}, "axis": null}
},
"layer": [
{"data": {"name": "stim"}, "mark": {"type": "rule", "stroke": "#6e6e6e", "strokeWidth": 1.3}, "encoding": {"y2": {"field": "v2"}}},
{"data": {"name": "gray"}, "mark": {"type": "line", "stroke": "#7a7a7a", "strokeWidth": 1.1}, "encoding": {"detail": {"field": "id", "type": "nominal"}}},
{"data": {"name": "smooth"}, "mark": {"type": "line", "stroke": "#7a7a7a", "strokeWidth": 1.1, "interpolate": "monotone"}, "encoding": {"detail": {"field": "id", "type": "nominal"}}},
{"data": {"name": "hold"}, "mark": {"type": "line", "stroke": "#2e2e2e", "strokeWidth": 1}, "encoding": {"detail": {"field": "id", "type": "nominal"}}},
{"data": {"name": "raw"}, "mark": {"type": "line", "stroke": "#1c1c1c", "strokeWidth": 1.2}, "encoding": {"detail": {"field": "id", "type": "nominal"}}},
{"data": {"name": "bars"}, "mark": {"type": "rule", "stroke": "#1c1c1c", "strokeWidth": 1.2}, "encoding": {"x2": {"field": "t2"}, "y2": {"field": "v2"}}},
{"data": {"name": "labels"}, "transform": [{"filter": "datum.role === 'title'"}], "mark": {"type": "text", "font": "DejaVu Sans", "fontWeight": "bold", "fontSize": 22, "align": "center", "baseline": "middle", "color": "#111"}, "encoding": {"text": {"field": "text"}}},
{"data": {"name": "labels"}, "transform": [{"filter": "datum.role === 'header'"}], "mark": {"type": "text", "font": "Liberation Sans", "fontSize": 15, "align": "center", "baseline": "middle", "color": "#222"}, "encoding": {"text": {"field": "text"}}},
{"data": {"name": "labels"}, "transform": [{"filter": "datum.role === 'section'"}], "mark": {"type": "text", "font": "Liberation Sans", "fontSize": 16, "align": "left", "baseline": "middle", "color": "#1a1a1a"}, "encoding": {"text": {"field": "text"}}},
{"data": {"name": "labels"}, "transform": [{"filter": "datum.role === 'sub'"}], "mark": {"type": "text", "font": "Liberation Mono", "fontWeight": "bold", "fontSize": 11.3, "align": "left", "baseline": "middle", "color": "#333"}, "encoding": {"text": {"field": "text"}}},
{"data": {"name": "labels"}, "transform": [{"filter": "datum.role === 'unit'"}], "mark": {"type": "text", "font": "Liberation Mono", "fontSize": 7, "align": "center", "baseline": "middle", "color": "#222"}, "encoding": {"text": {"field": "text"}}},
{"data": {"name": "labels"}, "transform": [{"filter": "datum.role === 'unitv'"}], "mark": {"type": "text", "font": "Liberation Mono", "fontSize": 7, "align": "center", "baseline": "middle", "angle": 90, "color": "#222"}, "encoding": {"text": {"field": "text"}}},
{"data": {"name": "labels"}, "transform": [{"filter": "datum.role === 'fig'"}], "mark": {"type": "text", "font": "Liberation Sans", "fontWeight": "bold", "fontSize": 19.5, "align": "left", "baseline": "middle", "color": "#1d6fb5"}, "encoding": {"text": {"field": "text"}}},
{"data": {"name": "labels"}, "transform": [{"filter": "datum.role === 'caption'"}], "mark": {"type": "text", "font": "Liberation Sans", "fontSize": 19.5, "align": "left", "baseline": "middle", "color": "#333"}, "encoding": {"text": {"field": "text"}}}
]
}
